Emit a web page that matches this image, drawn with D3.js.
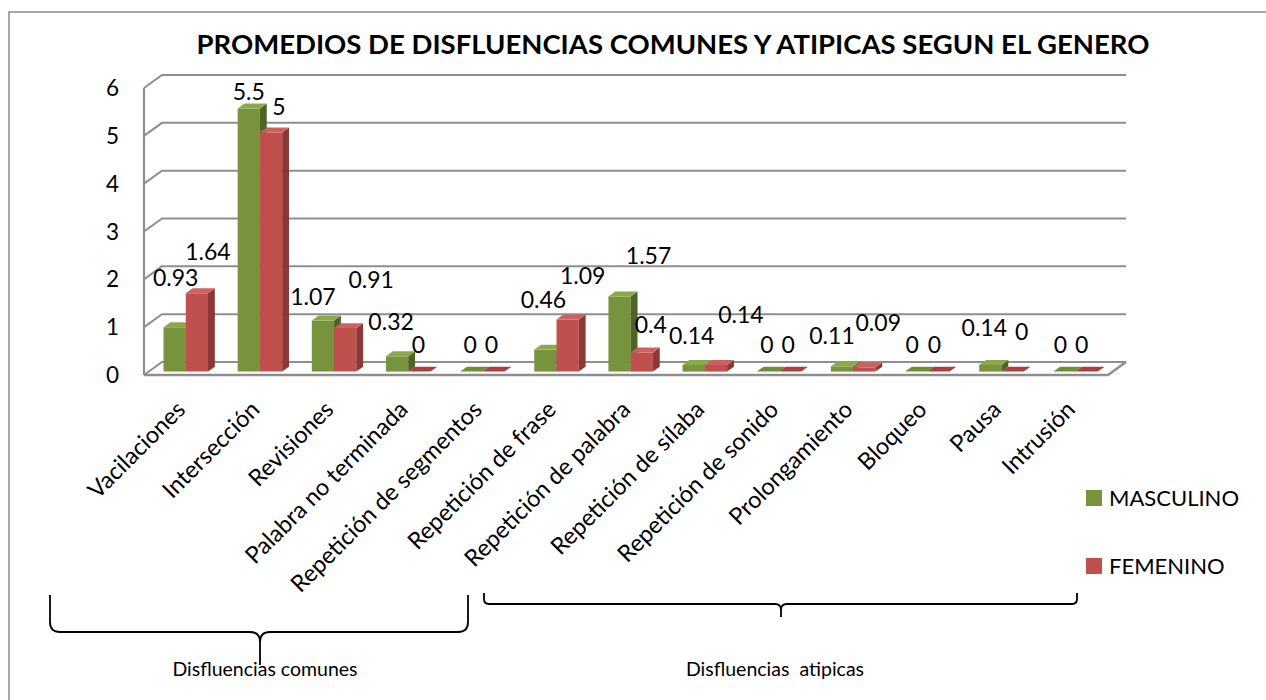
<!DOCTYPE html>
<html>
<head>
<meta charset="utf-8">
<script src="https://cdn.jsdelivr.net/npm/d3@7"></script>
<style>
  html, body { margin: 0; padding: 0; background: #fff; }
  svg { display: block; font-family: Lato, "Open Sans", sans-serif; }
</style>
</head>
<body>
<svg id="chart" width="1266" height="700"></svg>
<script>
// ---------------- data ----------------
const categories = ["Vacilaciones","Intersección","Revisiones","Palabra no terminada","Repetición de segmentos","Repetición de frase","Repetición de palabra","Repetición de sílaba","Repetición de sonido","Prolongamiento","Bloqueo","Pausa","Intrusión"];
const masculino = [0.93, 5.5, 1.07, 0.32, 0, 0.46, 1.57, 0.14, 0, 0.11, 0, 0.14, 0];
const femenino  = [1.64, 5, 0.91, 0, 0, 1.09, 0.4, 0.14, 0, 0.09, 0, 0, 0];
const seriesNames = ["MASCULINO", "FEMENINO"];
const yTicks = [0, 1, 2, 3, 4, 5, 6];
const titleText = "PROMEDIOS DE DISFLUENCIAS COMUNES Y ATIPICAS SEGUN EL GENERO";
const groupLabels = ["Disfluencias comunes", "Disfluencias  atipicas"];

// label nudges (layout only, pixels) to mimic the original label placement
const labelNudgeM = [[1,-19],[0,13],[-10,7],[-6,-4],[-1,3],[-2,-20],[29,-11],[-2,1],[-1,3],[-10,0],[-4,3],[-6,-7],[-4,3]];
const labelNudgeF = [[11,-11],[8,5],[26,-18],[-1,3],[-2,3],[15,-13],[9,3],[25,-20],[-2,3],[14,-14],[-4,3],[9,-10],[-5,3]];

// ---------------- layout ----------------
const svg = d3.select("#chart");
const X0 = 144, X1 = 1108, YB = 375, YT = 88;
const DX = 18, DY = 13;            // full depth of the floor
const T0 = 0.26, TD = 0.38;        // bar plane position and bar depth (fractions)
const gridColor = "#8e8e8e";
const colors = {
  MASCULINO: { front: "#77933C", top: "#8AAA48", side: "#4F6228" },
  FEMENINO:  { front: "#C0504D", top: "#CC625F", side: "#8C3836" }
};

const x = d3.scaleBand().domain(categories).range([X0, X1]).paddingInner(0.4).paddingOuter(0.2);
const xs = d3.scaleBand().domain(seriesNames).range([0, x.bandwidth()]);
const y = d3.scaleLinear().domain([0, 6]).range([YB, YT]);

// outer border
svg.append("rect").attr("x", 9).attr("y", 12).attr("width", 1400).attr("height", 800)
  .attr("fill", "none").attr("stroke", "#8c8c8c").attr("stroke-width", 1.5);

// title
svg.append("text").attr("x", 673).attr("y", 54).attr("text-anchor", "middle")
  .attr("font-weight", "bold").attr("font-size", 27)
  .attr("textLength", 953).attr("lengthAdjust", "spacingAndGlyphs")
  .text(titleText);

// gridlines (back wall + left wall diagonals)
const grid = svg.append("g");
yTicks.forEach(t => {
  const yf = y(t);
  grid.append("path")
    .attr("d", `M${X0},${yf} L${X0 + DX},${yf - DY} L${X1 + DX},${yf - DY}`)
    .attr("fill", "none").attr("stroke", gridColor).attr("stroke-width", 2);
});
// front vertical axis
grid.append("line").attr("x1", X0).attr("x2", X0).attr("y1", y(6)).attr("y2", y(0))
  .attr("stroke", gridColor).attr("stroke-width", 2.2);
// floor front + right edge
grid.append("path")
  .attr("d", `M${X0},${y(0)} L${X1},${y(0)} L${X1 + DX},${y(0) - DY}`)
  .attr("fill", "none").attr("stroke", gridColor).attr("stroke-width", 2.5);

// y tick labels
svg.append("g").selectAll("text").data(yTicks).join("text")
  .attr("x", 119).attr("y", d => y(d) + 8).attr("text-anchor", "end")
  .attr("font-size", 22.5).attr("fill", "#000").text(d => d);

// bars
const ox = T0 * DX, oy = T0 * DY, bdx = TD * DX, bdy = TD * DY;
const bars = svg.append("g");
categories.forEach((c, i) => {
  [["MASCULINO", masculino[i]], ["FEMENINO", femenino[i]]].forEach(([s, v]) => {
    const col = colors[s];
    const x0 = x(c) + xs(s) + ox, x1 = x0 + xs.bandwidth();
    const yb = y(0) - oy, yt = y(v) - oy;
    const g = bars.append("g");
    if (v > 0) {
      g.append("path").attr("d", `M${x0},${yt} L${x1},${yt} L${x1},${yb} L${x0},${yb} Z`).attr("fill", col.front);
      g.append("path").attr("d", `M${x1},${yt} L${x1 + bdx},${yt - bdy} L${x1 + bdx},${yb - bdy} L${x1},${yb} Z`).attr("fill", col.side);
    }
    g.append("path").attr("d", `M${x0},${yt} L${x1},${yt} L${x1 + bdx},${yt - bdy} L${x0 + bdx},${yt - bdy} Z`)
      .attr("fill", v > 0 ? col.top : (s === "MASCULINO" ? "#6E8E35" : "#A8403D"));
  });
});

// data labels
const labels = svg.append("g").attr("font-size", 23).attr("fill", "#000");
categories.forEach((c, i) => {
  [["MASCULINO", masculino[i], labelNudgeM[i]], ["FEMENINO", femenino[i], labelNudgeF[i]]].forEach(([s, v, n]) => {
    const cx = x(c) + xs(s) + ox + xs.bandwidth() / 2;
    const cy = y(v) - oy - 30;
    labels.append("text").attr("x", cx + n[0]).attr("y", cy + n[1] + 8)
      .attr("text-anchor", "middle").text(v);
  });
});

// category labels
svg.append("g").selectAll("text").data(categories).join("text")
  .attr("transform", d => `translate(${x(d) + x.bandwidth() / 2 + ox + 1},411) rotate(-45)`)
  .attr("text-anchor", "end").attr("font-size", 23.5).attr("fill", "#000").text(d => d);

// legend
const legend = svg.append("g");
seriesNames.forEach((s, i) => {
  const ly = 490 + i * 68;
  legend.append("rect").attr("x", 1086).attr("y", ly).attr("width", 16).attr("height", 16).attr("fill", colors[s].front);
  legend.append("text").attr("x", 1109).attr("y", ly + 16).attr("font-size", 22).attr("fill", "#000").text(s);
});

// braces
function brace(xL, xR, xC, yTop, yH, yTip, r, rc) {
  return `M${xL},${yTop} L${xL},${yH - r} Q${xL},${yH} ${xL + r},${yH} L${xC - rc},${yH} Q${xC},${yH} ${xC},${yH + rc} L${xC},${yTip} ` +
         `M${xC},${yH + rc} Q${xC},${yH} ${xC + rc},${yH} L${xR - r},${yH} Q${xR},${yH} ${xR},${yH - r} L${xR},${yTop}`;
}
svg.append("path").attr("d", brace(50, 468, 260, 595, 632, 665, 10, 10))
  .attr("fill", "none").attr("stroke", "#000").attr("stroke-width", 1.8);
svg.append("path").attr("d", brace(484, 1077, 781, 593, 604, 617, 5, 6))
  .attr("fill", "none").attr("stroke", "#000").attr("stroke-width", 1.8);

svg.append("text").attr("x", 265).attr("y", 676).attr("text-anchor", "middle")
  .attr("font-size", 19.5).text(groupLabels[0]);
svg.append("text").attr("x", 775).attr("y", 676).attr("text-anchor", "middle")
  .attr("font-size", 19.5).style("white-space", "pre").text(groupLabels[1]);
</script>
</body>
</html>
